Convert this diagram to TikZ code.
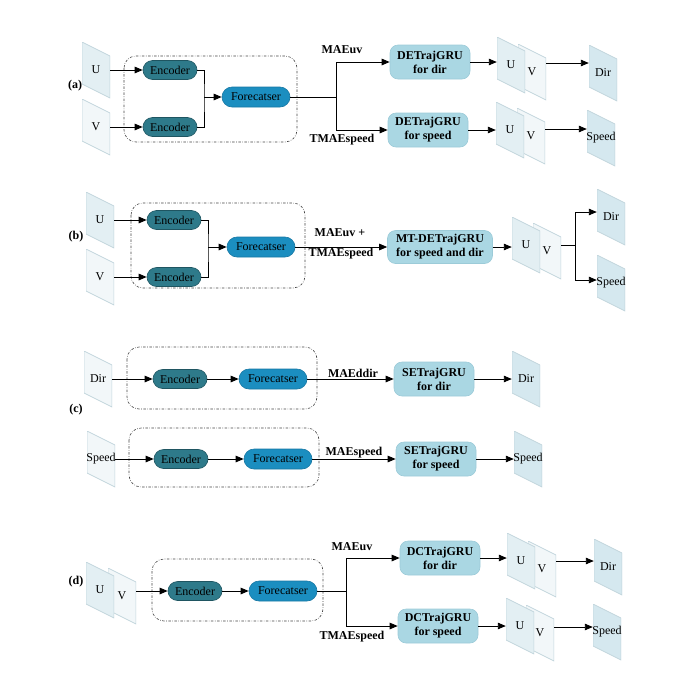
\documentclass[tikz,border=0pt]{standalone}
\usepackage{fontspec}
\setmainfont{Liberation Serif}
\usetikzlibrary{calc, arrows.meta}
\definecolor{enccol}{HTML}{2E7A8A}
\definecolor{encline}{HTML}{1F5561}
\definecolor{fccol}{HTML}{1B8EC0}
\definecolor{fcline}{HTML}{1877A3}
\definecolor{grucol}{HTML}{AAD7E3}
\definecolor{gruline}{HTML}{9CCBD8}
\definecolor{slabline}{HTML}{C3D6DD}
\definecolor{slabdark}{HTML}{D5E8EF}
\definecolor{slabmid}{HTML}{E3EFF3}
\definecolor{slablight}{HTML}{F2F7F9}
\definecolor{groupline}{HTML}{444444}

\begin{document}
\begin{tikzpicture}[x=1pt, y=-1pt,
	encbox/.style={draw=encline, fill=enccol, line width=0.6pt, rounded corners=9.5pt, minimum width=54pt, minimum height=19pt, inner sep=0pt, font=\myfontbox},
	fcbox/.style={draw=fcline, fill=fccol, line width=0.6pt, rounded corners=10pt, minimum width=68pt, minimum height=20pt, inner sep=0pt, font=\myfontbox},
	grubox/.style={draw=gruline, fill=grucol, line width=0.6pt, rounded corners=8pt, minimum width=80pt, minimum height=34pt, inner sep=0pt, align=center, font=\myfontbold},
	slab/.style={minimum width=28pt, minimum height=56pt, inner xsep=-4pt, inner ysep=0pt, font=\myfontbox,
		path picture={
			\filldraw [fill=#1, draw=slabline, line width=0.8pt]
				(path picture bounding box.north west)
				-- ([yshift=-14pt]path picture bounding box.north east)
				-- (path picture bounding box.south east)
				-- ([yshift=14pt]path picture bounding box.south west) -- cycle;
		}},
	groupbox/.style={draw=groupline, line width=0.6pt, rounded corners=12pt, dash pattern=on 2.5pt off 1.5pt on 0.6pt off 1.5pt},
	conn/.style={line width=0.9pt},
	arrowconn/.style={conn, -{Triangle[length=8pt, width=6.5pt]}},
	losslabel/.style={font=\myfontbold, inner sep=1pt},
	panellabel/.style={font=\myfontbold, inner sep=1pt}]
	\newcommand{\myfontbox}{\fontsize{12}{14}\selectfont}
	\newcommand{\myfontbold}{\fontsize{12}{14}\selectfont\bfseries}
	\useasboundingbox (0,0) rectangle (676,686);
	%Panel labels
	\node [panellabel] (lab_a) at (75,86) {(a)};
	\node [panellabel] (lab_b) at (76,237) {(b)};
	\node [panellabel] (lab_c) at (76,410) {(c)};
	\node [panellabel] (lab_d) at (76,582) {(d)};
	%%%%%%%%%%%%%%%% (a)
	%Group box
	\draw [groupbox] (124,56) rectangle (297,142);
	%Inputs
	\node [slab=slabmid] (inU_a) at (96,70) {U};
	\node [slab=slablight] (inV_a) at (96,127) {V};
	%Encoders and forecaster
	\node [encbox] (enc_a1) at (170,70) {Encoder};
	\node [encbox] (enc_a2) at (170,127) {Encoder};
	\node [fcbox] (fc_a) at (256,97) {Forecatser};
	\coordinate (join_a) at (204,97);
	\coordinate (split_a) at (336,97);
	%Heads
	\node [grubox] (gru_a1) at (430,62) {DETrajGRU\\for dir};
	\node [grubox] (gru_a2) at (428,130) {DETrajGRU\\for speed};
	\node [losslabel] (loss_a1) at (342,50) {MAEuv};
	\node [losslabel] (loss_a2) at (342,140) {TMAEspeed};
	%Outputs
	\node [slab=slablight] (outV_a1) at (532,72) {V};
	\node [slab=slabmid] (outU_a1) at (511,65) {U};
	\node [slab=slabdark] (dir_a) at (603,73) {Dir};
	\node [slab=slablight] (outV_a2) at (531,136) {V};
	\node [slab=slabmid] (outU_a2) at (510,130) {U};
	\node [slab=slabdark] (speed_a) at (601,138) {Speed};
	\coordinate (tap_a1) at ([yshift=9pt]outV_a1.east);
	\coordinate (tap_a2) at ([yshift=7pt]outV_a2.east);
	%Connectors
	\draw [arrowconn] (inU_a.east) -- (enc_a1.west);
	\draw [arrowconn] (inV_a.east) -- (enc_a2.west);
	\draw [conn] (enc_a1.east) -| (join_a) |- (enc_a2.east);
	\draw [arrowconn] (join_a) -- (fc_a.west);
	\draw [conn] (fc_a.east) -- (split_a);
	\draw [arrowconn] (split_a) |- (gru_a1.west);
	\draw [arrowconn] (split_a) |- (gru_a2.west);
	\draw [arrowconn] (gru_a1.east) -- (gru_a1.east -| outU_a1.west);
	\draw [arrowconn] (gru_a2.east) -- (gru_a2.east -| outU_a2.west);
	\draw [arrowconn] (tap_a1) -- (tap_a1 -| dir_a.west);
	\draw [arrowconn] (tap_a2) -- (tap_a2 -| speed_a.west);
	%%%%%%%%%%%%%%%% (b)
	%Group box
	\draw [groupbox] (131,203) rectangle (305,288);
	%Inputs
	\node [slab=slabmid] (inU_b) at (100,220) {U};
	\node [slab=slablight] (inV_b) at (100,277) {V};
	%Encoders and forecaster
	\node [encbox] (enc_b1) at (174,220) {Encoder};
	\node [encbox] (enc_b2) at (174,277) {Encoder};
	\node [fcbox] (fc_b) at (261,247) {Forecatser};
	\coordinate (join_b) at (208,247);
	%Head
	\node [grubox, minimum width=105pt, minimum height=33pt] (gru_b) at (440,247) {MT-DETrajGRU\\for speed and dir};
	\node [losslabel] (loss_b1) at (340,233) {MAEuv +};
	\node [losslabel] (loss_b2) at (341,254) {TMAEspeed};
	%Outputs
	\node [slab=slablight] (outV_b) at (547,251) {V};
	\node [slab=slabmid] (outU_b) at (526,245) {U};
	\node [slab=slabdark] (dir_b) at (611,217) {Dir};
	\node [slab=slabdark] (speed_b) at (611,283) {Speed};
	\coordinate (tap_b) at ([yshift=6pt]outV_b.east);
	\coordinate (split_b) at (575,245);
	%Connectors
	\draw [arrowconn] (inU_b.east) -- (enc_b1.west);
	\draw [arrowconn] (inV_b.east) -- (enc_b2.west);
	\draw [conn] (enc_b1.east) -| (join_b) |- (enc_b2.east);
	\draw [arrowconn] (join_b) -- (fc_b.west);
	\draw [arrowconn] (fc_b.east) -- (gru_b.west);
	\draw [arrowconn] (gru_b.east) -- (gru_b.east -| outU_b.west);
	\draw [conn] (tap_b) -- (split_b);
	\draw [arrowconn] (split_b) |- ([yshift=5pt]dir_b.west);
	\draw [arrowconn] (split_b) |- ([yshift=3pt]speed_b.west);
	%%%%%%%%%%%%%%%% (c)
	%Group boxes
	\draw [groupbox] (127,347) rectangle (317,409);
	\draw [groupbox] (129,428) rectangle (319,487);
	%Dir branch
	\node [slab=slablight] (dir_c) at (98,379) {Dir};
	\node [encbox] (enc_c1) at (180,379) {Encoder};
	\node [fcbox] (fc_c1) at (273,379) {Forecatser};
	\node [grubox] (gru_c1) at (434,379) {SETrajGRU\\for dir};
	\node [losslabel, anchor=south] (loss_c1) at (353,379) {MAEddir};
	\node [slab=slabdark] (dirout_c) at (526,379) {Dir};
	%Speed branch
	\node [slab=slablight] (speed_c) at (101,459) {Speed};
	\node [encbox] (enc_c2) at (181,459) {Encoder};
	\node [fcbox] (fc_c2) at (278,459) {Forecatser};
	\node [grubox] (gru_c2) at (436,459) {SETrajGRU\\for speed};
	\node [losslabel, anchor=south] (loss_c2) at (354,459) {MAEspeed};
	\node [slab=slabdark] (speedout_c) at (528,459) {Speed};
	%Connectors
	\draw [arrowconn] (dir_c.east) -- (enc_c1.west);
	\draw [arrowconn] (enc_c1.east) -- (fc_c1.west);
	\draw [arrowconn] (fc_c1.east) -- (gru_c1.west);
	\draw [arrowconn] (gru_c1.east) -- (dirout_c.west);
	\draw [arrowconn] (speed_c.east) -- (enc_c2.west);
	\draw [arrowconn] (enc_c2.east) -- (fc_c2.west);
	\draw [arrowconn] (fc_c2.east) -- (gru_c2.west);
	\draw [arrowconn] (gru_c2.east) -- (speedout_c.west);
	%%%%%%%%%%%%%%%% (d)
	%Group box
	\draw [groupbox] (152,559) rectangle (323,621);
	%Inputs
	\node [slab=slablight] (inV_d) at (122,596) {V};
	\node [slab=slabmid] (inU_d) at (100,590) {U};
	%Encoder and forecaster
	\node [encbox] (enc_d) at (195,591) {Encoder};
	\node [fcbox] (fc_d) at (283,591) {Forecatser};
	\coordinate (split_d) at (346,591);
	%Heads
	\node [grubox] (gru_d1) at (440,558) {DCTrajGRU\\for dir};
	\node [grubox] (gru_d2) at (438,626) {DCTrajGRU\\for speed};
	\node [losslabel] (loss_d1) at (352,547) {MAEuv};
	\node [losslabel] (loss_d2) at (352,637) {TMAEspeed};
	%Outputs
	\node [slab=slablight] (outV_d1) at (542,569) {V};
	\node [slab=slabmid] (outU_d1) at (521,561) {U};
	\node [slab=slabdark] (dir_d) at (608,567) {Dir};
	\node [slab=slablight] (outV_d2) at (540,633) {V};
	\node [slab=slabmid] (outU_d2) at (520,626) {U};
	\node [slab=slabdark] (speed_d) at (607,632) {Speed};
	\coordinate (tap_d1) at ([yshift=8pt]outV_d1.east);
	\coordinate (tap_d2) at ([yshift=6pt]outV_d2.east);
	%Connectors
	\draw [arrowconn] (enc_d.west -| inV_d.east) -- (enc_d.west);
	\draw [arrowconn] (enc_d.east) -- (fc_d.west);
	\draw [conn] (fc_d.east) -- (split_d);
	\draw [arrowconn] (split_d) |- (gru_d1.west);
	\draw [arrowconn] (split_d) |- (gru_d2.west);
	\draw [arrowconn] (gru_d1.east) -- (gru_d1.east -| outU_d1.west);
	\draw [arrowconn] (gru_d2.east) -- (gru_d2.east -| outU_d2.west);
	\draw [arrowconn] (tap_d1) -- (tap_d1 -| dir_d.west);
	\draw [arrowconn] (tap_d2) -- (tap_d2 -| speed_d.west);
\end{tikzpicture}
\end{document}
